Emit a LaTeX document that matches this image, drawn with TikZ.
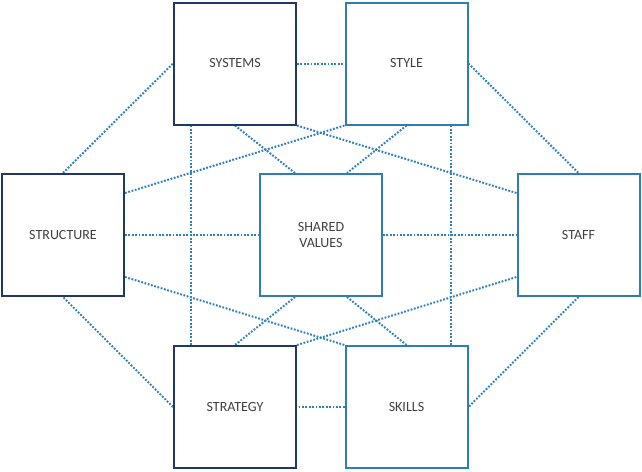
\documentclass[tikz,border=0pt]{standalone}
\usepackage{fontspec}
\setmainfont{Carlito}
\usetikzlibrary{backgrounds}
\definecolor{navy}{RGB}{31,56,100}
\definecolor{lblue}{RGB}{46,125,182}
\definecolor{dotc}{RGB}{46,128,188}
\definecolor{txt}{RGB}{64,64,64}
\tikzset{
  darkbox/.style={draw=navy, line width=2pt, fill=white, minimum width=122pt, minimum height=122pt, inner sep=0pt, text=txt, font=\fontsize{14}{16.5}\selectfont, align=center},
  bluebox/.style={darkbox, draw=lblue},
  link/.style={draw=dotc, line width=2pt, dash pattern=on 1.8pt off 1.6pt}
}
\begin{document}
\begin{tikzpicture}[x=1pt,y=-1pt]
\useasboundingbox (0,0) rectangle (642,471);
\node[darkbox] (sys) at (235,63.5) {SYSTEMS};
\node[bluebox] (style) at (406.5,63.5) {STYLE};
\node[darkbox] (struct) at (63,235) {STRUCTURE};
\node[bluebox] (shared) at (321,235) {SHARED\\VALUES};
\node[bluebox] (staff) at (578.5,235) {STAFF};
\node[darkbox] (strat) at (235,407) {STRATEGY};
\node[bluebox] (skills) at (406.5,407) {SKILLS};
\begin{pgfonlayer}{background}
\path[link] (struct.north) -- (sys.west);
\path[link] (sys.east) -- (style.west);
\path[link] (style.east) -- (staff.north);
\path[link] (staff.south) -- (skills.east);
\path[link] (skills.west) -- (strat.east);
\path[link] (strat.west) -- (struct.south);
\path[link] (struct.east) -- (shared.west);
\path[link] (shared.east) -- (staff.west);
\path[link] ([xshift=-44pt]sys.south) -- ([xshift=-44pt]strat.north);
\path[link] ([xshift=44.5pt]style.south) -- ([xshift=44.5pt]skills.north);
\path[link] (sys.south) -- ([xshift=-26pt]shared.north);
\path[link] (sys.south east) -- ([yshift=42pt]staff.west);
\path[link] (style.south west) -- ([yshift=42pt]struct.east);
\path[link] (style.south) -- ([xshift=26pt]shared.north);
\path[link] ([xshift=-26pt]shared.south) -- (strat.north);
\path[link] ([xshift=26pt]shared.south) -- (skills.north);
\path[link] ([yshift=-42pt]struct.east) -- (skills.north west);
\path[link] (strat.north east) -- ([yshift=-42pt]staff.west);
\end{pgfonlayer}
\end{tikzpicture}
\end{document}
